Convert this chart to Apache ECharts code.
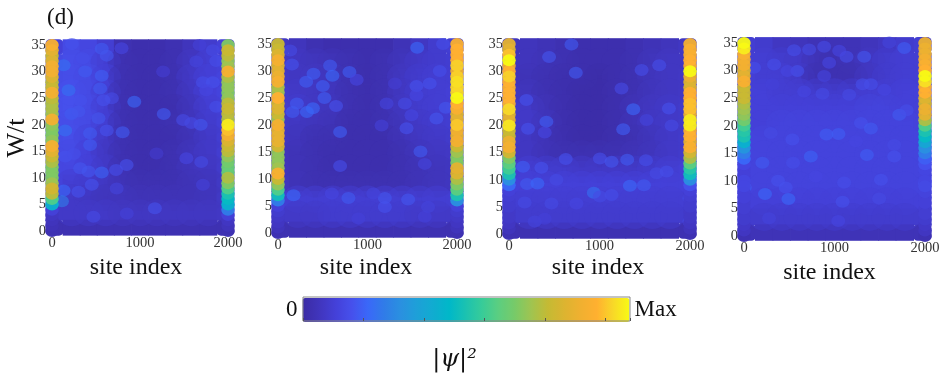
<!DOCTYPE html>
<html><head><meta charset="utf-8">
<script src="https://cdn.jsdelivr.net/npm/echarts@6/dist/echarts.min.js"></script>
<style>html,body{margin:0;padding:0;background:#fff}#c{width:946px;height:377px;filter:blur(0.6px)}</style>
</head><body><div id="c"></div>
<script>
const wLevels=[35,34,33,32,31,30,29,28,27,26,25,24,23,22,21,20,19,18,17,16,15,14,13,12,11,10,9,8,7,6,5,4,3,2,1,0];
const bgSites=[29,223,417,611,805,1000,1194,1389,1583,1777,1971];
const bgRows=[34.58,31.75,28.92,26.09,23.26,20.43,17.6,14.77,11.94,9.11,6.28,3.45,0.62];

const left1=[.88,.82,.76,.8,.86,.86,.8,.74,.76,.86,.74,.72,.72,.7,.86,.68,.66,.66,.68,.87,.82,.76,.72,.66,.66,.66,.7,.78,.74,.58,.42,.1,.06,.05,.04,.03];
const right1=[.66,.76,.74,.68,.7,.87,.72,.68,.68,.66,.68,.74,.76,.74,.72,.98,.92,.86,.8,.76,.74,.68,.64,.62,.62,.72,.66,.58,.5,.46,.42,.25,.1,.06,.05,.03];
const left2=[.76,.76,.8,.87,.8,.82,.84,.87,.72,.7,.9,.78,.8,.76,.7,.87,.82,.83,.83,.78,.68,.68,.68,.7,.88,.76,.68,.58,.48,.25,.1,.08,.07,.06,.05,.03];
const right2=[.88,.9,.9,.9,.94,.85,.94,.96,.95,.95,1,.9,.88,.8,.82,.93,.85,.82,.86,.76,.7,.66,.66,.82,.8,.72,.66,.6,.5,.3,.1,.08,.07,.06,.05,.03];
const left3=[.82,.8,.92,1,.85,.9,.94,.9,.88,.9,.9,.88,.95,.8,.82,.97,.76,.76,.84,.86,.78,.66,.6,.56,.5,.3,.2,.1,.09,.08,.08,.07,.07,.06,.05,.03];
const right3=[.86,.88,.88,.9,.88,1,.84,.8,.8,.9,.9,.92,.92,.84,.98,.98,.88,.9,.82,.88,.78,.72,.6,.52,.48,.3,.15,.1,.09,.08,.08,.07,.07,.06,.05,.03];
const left4=[1,.98,.88,.86,.86,.8,.82,.88,.76,.76,.76,.72,.7,.68,.64,.56,.52,.5,.42,.32,.25,.2,.12,.1,.1,.12,.12,.1,.1,.09,.09,.08,.08,.07,.06,.03];
const right4=[.84,.84,.84,.86,.88,.9,1,.96,.88,.9,.8,.78,.84,.82,.72,.58,.5,.46,.38,.3,.25,.18,.15,.12,.11,.12,.13,.11,.1,.1,.09,.09,.08,.07,.06,.03];

const dots1=[[935,24.3,.2],[1270,22,.17],[803,18.6,.17],[565,34.3,.17],[790,34.4,.12],[622,33,.16],[132,31.2,.22],[377,30,.17],[565,29.2,.18],[188,26.5,.22],[547,26.8,.17],[680,25,.13],[585,24.6,.15],[320,24.6,.15],[528,21.2,.16],[150,18.9,.22],[433,18.4,.17],[622,18.9,.15],[433,16.2,.17],[848,12.4,.15],[565,11,.19],[728,11.5,.14],[320,11.8,.16],[415,11.2,.16],[452,8.7,.15],[132,7.6,.2],[300,7.4,.15],[113,5.6,.25],[471,2.7,.13],[1169,4.3,.15],[850,3.3,.1],[1490,20.9,.13],[1690,20,.16],[1583,20.3,.13],[1696,13,.13],[1527,13.7,.12],[1187,14.6,.08],[1715,28,.14],[1828,34,.13],[1677,35,.1],[1828,28,.15],[1866,23.4,.14],[1640,31.9,.11],[1263,30,.09],[1866,32,.14],[1753,26.5,.12],[1715,8.7,.1],[735,8,.11],[226,35.2,.15],[350,32.5,.14],[220,22,.17],[300,22.5,.16],[150,14,.15],[250,14.5,.14]];
const dots2=[[1555,34.3,.2],[137,33.8,.13],[156,31.2,.15],[582,31,.17],[397,29.5,.18],[608,29.1,.2],[315,28,.18],[501,27.2,.18],[798,29.8,.18],[879,28.4,.12],[519,25,.18],[211,24,.17],[163,22.4,.17],[323,22.4,.2],[390,23.1,.2],[649,23.5,.15],[694,18.7,.18],[694,12.4,.14],[1436,19.4,.15],[1157,19.9,.1],[1213,24,.11],[1417,24,.13],[1491,21.8,.12],[1770,21.2,.16],[1874,23.2,.16],[1592,15.1,.17],[1640,12.8,.11],[1807,30,.14],[1695,27.7,.15],[1547,27.2,.15],[1547,25.5,.12],[1306,27.7,.09],[174,7,.2],[787,6.5,.17],[1194,6.5,.16],[1454,6.2,.16],[1194,4.8,.15],[1677,4.8,.11],[601,7.3,.12],[1065,7.3,.11],[898,2.7,.1],[1640,3,.1],[1844,35,.14]];
const dots3=[[690,34.9,.17],[443,32.6,.16],[738,29.7,.17],[1465,30.2,.14],[1660,31.1,.14],[1243,26.8,.13],[1373,23,.2],[1262,19.3,.18],[413,20.7,.18],[395,18.7,.12],[210,19.4,.15],[192,24.7,.15],[1767,23.1,.15],[1797,20,.13],[1520,21,.11],[627,13.8,.15],[1004,13.9,.14],[1133,13.3,.16],[1306,13.7,.17],[1513,13.6,.14],[358,12.2,.15],[155,12.4,.18],[199,9.2,.17],[314,9.3,.2],[937,7.6,.22],[1336,8.9,.2],[1491,9,.17],[1133,7.2,.14],[1004,6.9,.13],[524,10,.13],[469,5.6,.13],[173,5.8,.13],[745,5.6,.12],[284,2.3,.11],[395,2.8,.1],[1993,2.3,.13],[1993,6.6,.13],[1631,11.2,.13],[1742,11.5,.14]];
const dots4=[[553,33.7,.14],[720,33.8,.13],[886,34.3,.13],[1133,32.5,.14],[1328,32.5,.16],[1771,34.1,.18],[1605,35.1,.11],[1052,33.6,.12],[332,31.1,.14],[590,29.9,.15],[480,29.9,.12],[941,31.4,.12],[886,29,.11],[1310,27.5,.14],[1402,27.5,.14],[1550,26.5,.12],[1162,25.6,.13],[867,25.8,.13],[664,26.2,.12],[314,27.5,.1],[111,30.5,.14],[1716,22,.17],[1797,22.8,.14],[1292,20.5,.15],[1402,19.5,.17],[911,18.4,.18],[1044,18.5,.18],[535,17.5,.15],[295,18.7,.13],[1660,16.5,.13],[1236,17.2,.12],[738,14.4,.19],[1358,14.7,.18],[1660,14.4,.15],[2000,13.9,.17],[203,13.3,.17],[542,13.3,.14],[376,10,.15],[461,8.8,.15],[7,8.8,.19],[232,7.6,.2],[491,6.7,.2],[1107,9.7,.14],[1513,10.2,.15],[1089,6.2,.15],[1494,6.8,.13],[2000,9.6,.15],[1041,2.7,.12],[277,3.2,.11],[793,10.8,.12]];

const bg1=[[.1,.13,.12,.09,.03,.02,.02,.03,.05,.08,.1],[.12,.14,.13,.09,.03,.02,.02,.03,.06,.09,.12],[.13,.14,.13,.1,.03,.02,.02,.03,.07,.1,.12],[.14,.15,.13,.09,.03,.02,.02,.03,.06,.1,.12],[.14,.15,.13,.09,.03,.02,.02,.02,.05,.09,.12],[.14,.14,.13,.09,.03,.02,.02,.03,.05,.08,.11],[.13,.14,.11,.07,.03,.02,.02,.02,.04,.07,.1],[.13,.13,.1,.06,.03,.02,.02,.03,.05,.07,.1],[.12,.12,.1,.07,.03,.02,.02,.03,.05,.06,.09],[.12,.09,.08,.06,.04,.03,.03,.03,.04,.05,.08],[.08,.07,.06,.05,.05,.04,.04,.04,.04,.05,.08],[.07,.07,.07,.07,.06,.06,.06,.06,.06,.06,.07],[.03,.03,.03,.03,.03,.03,.03,.03,.03,.03,.03]];
const bg2=[[.06,.05,.03,.02,.02,.02,.02,.04,.06,.08,.09],[.07,.06,.05,.04,.03,.02,.03,.05,.07,.08,.09],[.07,.06,.06,.05,.03,.02,.03,.06,.08,.09,.09],[.08,.07,.06,.05,.03,.02,.03,.06,.08,.09,.1],[.08,.08,.06,.05,.03,.02,.03,.06,.08,.09,.1],[.07,.06,.05,.04,.02,.02,.03,.05,.07,.08,.09],[.06,.05,.03,.03,.02,.02,.02,.04,.06,.07,.08],[.05,.04,.03,.02,.02,.02,.02,.03,.05,.06,.07],[.05,.04,.03,.02,.02,.02,.02,.03,.04,.05,.06],[.06,.04,.03,.03,.03,.03,.03,.03,.04,.05,.06],[.09,.09,.09,.09,.09,.09,.09,.09,.09,.09,.09],[.07,.07,.07,.08,.08,.08,.08,.08,.07,.07,.07],[.03,.03,.03,.03,.03,.03,.03,.03,.03,.03,.03]];
const bg3=[[.05,.05,.04,.03,.02,.02,.02,.03,.04,.05,.06],[.06,.05,.04,.03,.02,.02,.02,.03,.05,.06,.06],[.06,.04,.03,.02,.02,.01,.02,.03,.05,.06,.07],[.07,.05,.03,.02,.01,.01,.02,.03,.05,.06,.07],[.08,.07,.04,.02,.01,.01,.02,.04,.06,.07,.08],[.08,.07,.05,.02,.01,.01,.02,.04,.06,.07,.08],[.08,.06,.04,.02,.01,.01,.02,.03,.05,.07,.08],[.07,.06,.04,.03,.03,.03,.03,.04,.05,.07,.08],[.09,.09,.08,.08,.07,.07,.07,.07,.08,.09,.1],[.1,.1,.1,.1,.1,.1,.1,.1,.1,.1,.1],[.09,.09,.09,.09,.09,.09,.09,.09,.09,.09,.09],[.08,.08,.08,.08,.08,.08,.08,.08,.08,.08,.08],[.03,.03,.03,.03,.03,.03,.03,.03,.03,.03,.03]];
const bg4=[[.09,.08,.06,.05,.04,.04,.04,.05,.06,.08,.09],[.09,.09,.08,.07,.04,.03,.04,.06,.08,.09,.09],[.1,.09,.09,.07,.03,.03,.03,.06,.08,.09,.09],[.1,.1,.09,.09,.08,.08,.08,.09,.09,.1,.1],[.1,.1,.1,.1,.1,.1,.1,.11,.11,.1,.1],[.1,.1,.11,.11,.11,.11,.11,.11,.11,.11,.1],[.11,.11,.11,.11,.11,.11,.11,.11,.11,.11,.11],[.11,.11,.11,.11,.11,.11,.11,.11,.11,.11,.11],[.11,.11,.11,.11,.11,.11,.11,.11,.11,.11,.11],[.11,.11,.11,.11,.11,.11,.11,.11,.11,.11,.11],[.1,.1,.1,.1,.1,.1,.1,.1,.1,.1,.1],[.08,.08,.08,.08,.08,.08,.08,.08,.08,.08,.08],[.04,.04,.04,.04,.04,.04,.04,.04,.04,.04,.04]];

const parula=['#3b2ba4','#4035bc','#4440d8','#4650ec','#3a68f8','#307ce8','#2a90e0','#1ea0d8','#10acd0','#00b8c8','#1cc2b0','#38cc98','#5cce80','#78ca68','#a0c450','#c4ba34','#dcb430','#f0b030','#ffb030','#f8d828','#f8fa14'];
const serif='"Liberation Serif","Times New Roman",serif';
const panels=[
 {g:{left:52,top:45,width:176,height:186,outerBoundsMode:'none'},bg:bg1,dots:dots1,l:left1,r:right1,pad:8,gap:25},
 {g:{left:278,top:44,width:179,height:189,outerBoundsMode:'none'},bg:bg2,dots:dots2,l:left2,r:right2,pad:3,gap:23},
 {g:{left:509,top:44,width:181,height:190,outerBoundsMode:'none'},bg:bg3,dots:dots3,l:left3,r:right3,pad:3,gap:22},
 {g:{left:744,top:43,width:181,height:193,outerBoundsMode:'none'},bg:bg4,dots:dots4,l:left4,r:right4,pad:10,gap:25}
];
const grid=[],xAxis=[],yAxis=[],series=[];
panels.forEach((p,i)=>{
 grid.push(p.g);
 xAxis.push({gridIndex:i,type:'value',min:0,max:2000,interval:1000,splitLine:{show:false},axisLine:{show:false},axisTick:{show:false},
  axisLabel:{margin:5,color:'#333',fontFamily:serif,fontSize:14.5,hideOverlap:false,formatter:v=>String(v)},
  name:'site index',nameLocation:'middle',nameGap:p.gap,nameMoveOverlap:false,nameTextStyle:{fontFamily:serif,fontSize:24,color:'#111',padding:[0,p.pad,0,0]}});
 yAxis.push({gridIndex:i,type:'value',min:0,max:35,interval:5,splitLine:{show:false},axisLine:{show:false},axisTick:{show:false},
  axisLabel:{margin:6,color:'#333',fontFamily:serif,fontSize:14.5},
  ...(i===0?{name:'W/t',nameLocation:'middle',nameGap:22,nameMoveOverlap:false,nameRotate:90,nameTextStyle:{fontFamily:serif,fontSize:26,color:'#111'}}:{})});
 const cw=(p.g.width*2134/2000)/bgSites.length+0.8, ch=(p.g.height*36.8/35)/bgRows.length+0.8;
 const bgData=[],softData=[];
 p.bg.forEach((row,ri)=>row.forEach((v,ci)=>{
  const corner=(ri===0||ri===bgRows.length-1)&&(ci===0||ci===bgSites.length-1);
  bgData.push({value:[bgSites[ci],bgRows[ri],v],symbol:corner?'roundRect':'rect'});
  if(ri>0&&ri<bgRows.length-1&&ci>0&&ci<bgSites.length-1) softData.push([bgSites[ci],bgRows[ri],v]);
 }));
 series.push({type:'scatter',xAxisIndex:i,yAxisIndex:i,clip:false,silent:true,symbolSize:[cw,ch],itemStyle:{opacity:1},data:bgData,z:1});
 series.push({type:'scatter',xAxisIndex:i,yAxisIndex:i,clip:false,silent:true,symbol:'circle',symbolSize:[cw*1.7,ch*1.7],itemStyle:{opacity:.5},data:softData,z:1});
 series.push({type:'scatter',xAxisIndex:i,yAxisIndex:i,clip:false,silent:true,symbol:'circle',symbolSize:[14,12],itemStyle:{opacity:.62},data:p.dots,z:2});
 const edge=[];
 wLevels.forEach((w,k)=>{edge.push([0,w,p.l[k]]);edge.push([2000,w,p.r[k]]);});
 edge.sort((a,b)=>a[2]-b[2]);
 series.push({type:'scatter',xAxisIndex:i,yAxisIndex:i,clip:false,silent:true,symbol:'circle',symbolSize:[13.5,12],itemStyle:{opacity:.95},data:edge,z:3});
});
grid.push({left:303,top:297,width:327,height:24,show:true,outerBoundsMode:'none',backgroundColor:'transparent',borderColor:'#888',borderWidth:1,z:10});
xAxis.push({gridIndex:4,type:'value',min:0,max:1,interval:.185,z:10,splitLine:{show:false},axisLine:{show:false},axisLabel:{show:false},
 axisTick:{show:true,inside:true,length:3,lineStyle:{color:'#555'}},
 name:'|ψ|²',nameLocation:'middle',nameGap:27,nameMoveOverlap:false,nameTextStyle:{fontFamily:'"DejaVu Serif",serif',fontStyle:'italic',fontSize:24,color:'#111',padding:[0,24,0,0]}});
yAxis.push({gridIndex:4,type:'value',min:0,max:1,show:false});

const chart=echarts.init(document.getElementById('c'),null,{renderer:'canvas'});
chart.setOption({
 animation:false,backgroundColor:'#fff',
 grid,xAxis,yAxis,series,
 visualMap:{type:'continuous',min:0,max:1,dimension:2,seriesIndex:series.map((s,i)=>i),orient:'horizontal',left:271,top:283,itemWidth:24,itemHeight:327,
  calculable:false,realtime:false,text:['Max','0'],textGap:5,textStyle:{fontFamily:serif,fontSize:23,color:'#111'},inRange:{color:parula}},
 graphic:[{type:'text',left:47,top:6,style:{text:'(d)',fontFamily:serif,fontSize:23,fill:'#111'}}]
});
</script></body></html>
